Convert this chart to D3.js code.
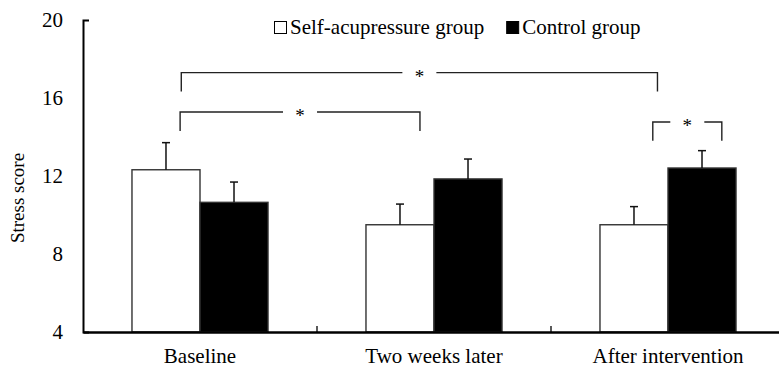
<!DOCTYPE html>
<html>
<head>
<meta charset="utf-8">
<script src="https://cdn.jsdelivr.net/npm/d3@7"></script>
<style>
  body { margin: 0; background: #fff; }
  svg { display: block; font-family: "Liberation Serif", "Times New Roman", serif; }
  .axis path, .axis line { stroke: #000; }
  .axis text { fill: #000; font-size: 21px; font-family: "Liberation Serif", "Times New Roman", serif; }
</style>
</head>
<body>
<svg width="779" height="369"></svg>
<script>
// data
const categories   = ['Baseline', 'Two weeks later', 'After intervention'];
const seriesNames  = ['Self-acupressure group', 'Control group'];
const selfMeans    = [12.32, 9.50, 9.50];
const selfSD       = [1.39, 1.06, 0.93];
const controlMeans = [10.65, 11.85, 12.41];
const controlSD    = [1.04, 1.02, 0.89];
const yTicks       = [4, 8, 12, 16, 20];

// significance brackets: [category, fraction of band] at each end, score of bar and of drop
const brackets = [
  { from: ['Baseline', 0.42], to: ['After intervention', 0.455], level: 17.30, drop: 16.33, label: '*' },
  { from: ['Baseline', 0.415], to: ['Two weeks later', 0.44], level: 15.28, drop: 14.31, label: '*' },
  { from: ['After intervention', 0.435], to: ['After intervention', 0.73], level: 14.77, drop: 13.81, label: '*' }
];

const svg = d3.select('svg');
const margin = { top: 20, right: -6, bottom: 37, left: 83 };
const width = 779 - margin.left - margin.right;
const height = 369 - margin.top - margin.bottom;
const g = svg.append('g').attr('transform', `translate(${margin.left},${margin.top})`);

const x = d3.scaleBand().domain(categories).range([0, width]).padding(0);
const x1 = d3.scaleBand().domain(seriesNames).range([0, x.bandwidth()]).paddingInner(0).paddingOuter(0.72);
const y = d3.scaleLinear().domain([4, 20]).range([height, 0]);

const rows = categories.map((c, i) => ({
  cat: c,
  values: [
    { key: seriesNames[0], mean: selfMeans[i], sd: selfSD[i] },
    { key: seriesNames[1], mean: controlMeans[i], sd: controlSD[i] }
  ]
}));
const fills = { 'Self-acupressure group': '#fff', 'Control group': '#000' };

// bars
const groups = g.selectAll('.grp')
  .data(rows)
  .enter().append('g')
  .attr('class', 'grp')
  .attr('transform', d => `translate(${x(d.cat)},0)`);

groups.selectAll('rect')
  .data(d => d.values)
  .enter().append('rect')
  .attr('x', d => x1(d.key))
  .attr('y', d => y(d.mean))
  .attr('width', x1.bandwidth())
  .attr('height', d => height - y(d.mean))
  .attr('fill', d => fills[d.key])
  .attr('stroke', '#333')
  .attr('stroke-width', 1.4);

// error bars (upper only)
const eb = groups.selectAll('.err')
  .data(d => d.values)
  .enter().append('g')
  .attr('class', 'err')
  .attr('stroke', '#111')
  .attr('stroke-width', 1.5);
eb.append('line')
  .attr('x1', d => x1(d.key) + x1.bandwidth() / 2)
  .attr('x2', d => x1(d.key) + x1.bandwidth() / 2)
  .attr('y1', d => y(d.mean))
  .attr('y2', d => y(d.mean + d.sd));
eb.append('line')
  .attr('x1', d => x1(d.key) + x1.bandwidth() / 2 - 4)
  .attr('x2', d => x1(d.key) + x1.bandwidth() / 2 + 4)
  .attr('y1', d => y(d.mean + d.sd))
  .attr('y2', d => y(d.mean + d.sd));

// axes
g.append('g')
  .attr('class', 'axis axis--y')
  .call(d3.axisLeft(y).tickValues(yTicks).tickSizeInner(0).tickSizeOuter(-6).tickPadding(20))
  .call(a => a.select('.domain').attr('stroke-width', 2));

g.append('g')
  .attr('class', 'axis axis--x')
  .attr('transform', `translate(0,${height})`)
  .call(d3.axisBottom(x).tickSize(0).tickPadding(16))
  .call(a => a.select('.domain').attr('stroke-width', 2.5));

// category separator ticks
g.selectAll('.sep')
  .data(categories.slice(1))
  .enter().append('line')
  .attr('class', 'sep')
  .attr('x1', d => x(d)).attr('x2', d => x(d))
  .attr('y1', height).attr('y2', height - 6)
  .attr('stroke', '#000').attr('stroke-width', 1.3);

// y label
svg.append('text')
  .attr('transform', 'translate(24,198) rotate(-90)')
  .attr('text-anchor', 'middle')
  .attr('font-size', 19)
  .text('Stress score');

// brackets
const bx = e => x(e[0]) + e[1] * x.bandwidth();
const br = g.selectAll('.bracket')
  .data(brackets)
  .enter().append('g')
  .attr('class', 'bracket');
br.append('path')
  .attr('fill', 'none')
  .attr('stroke', '#222')
  .attr('stroke-width', 1.4)
  .attr('d', d => {
    const x0 = bx(d.from), x2 = bx(d.to), m = (x0 + x2) / 2;
    return `M${x0},${y(d.drop)}V${y(d.level)}H${m - 17}M${m + 17},${y(d.level)}H${x2}V${y(d.drop)}`;
  });
br.append('text')
  .attr('x', d => (bx(d.from) + bx(d.to)) / 2)
  .attr('y', d => y(d.level) + 10)
  .attr('text-anchor', 'middle')
  .attr('font-size', 19)
  .text(d => d.label);

// legend
const legend = svg.append('g').attr('transform', 'translate(274,0)');
let lx = 0;
seriesNames.forEach(name => {
  legend.append('rect')
    .attr('x', lx + 0.5).attr('y', 21.5)
    .attr('width', 12).attr('height', 12)
    .attr('fill', fills[name])
    .attr('stroke', '#000').attr('stroke-width', 1);
  const t = legend.append('text')
    .attr('x', lx + 16).attr('y', 34)
    .attr('font-size', 21)
    .text(name);
  lx += 16 + t.node().getComputedTextLength() + 22;
});
</script>
</body>
</html>
